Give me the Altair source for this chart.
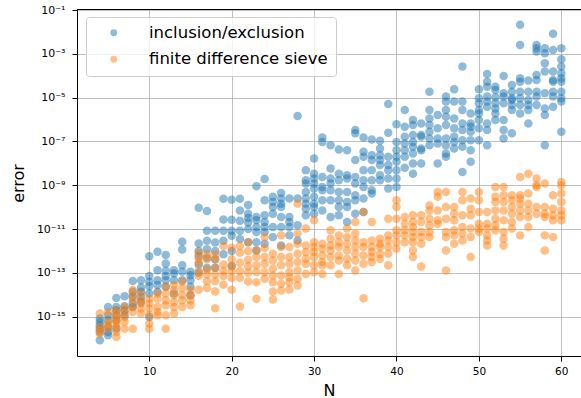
import altair as alt
import pandas as pd

# log10(error) for each N, inclusion/exclusion method
incl_excl_log10 = {
    4: [-15.09, -15.24, -15.40, -15.55, -15.70, -16.08],
    5: [-14.56, -14.94, -15.17, -15.47, -15.70, -15.85],
    6: [-14.15, -14.56, -14.71, -14.94, -15.17, -15.55],
    7: [-14.07, -14.53, -14.71, -14.94],
    8: [-13.37, -13.87, -14.10, -14.40, -14.56],
    9: [-13.34, -13.67, -13.87, -14.10, -14.33],
    10: [-12.24, -13.15, -13.41, -13.61, -13.95, -15.02],
    11: [-12.04, -12.88, -13.34, -13.56, -13.87],
    12: [-12.19, -12.57, -12.91, -13.15, -13.34, -13.64],
    13: [-12.88, -13.03, -13.34, -13.95],
    14: [-11.58, -11.93, -12.65, -12.95, -13.34],
    15: [-12.95, -13.11, -13.34, -13.64, -14.02],
    16: [-10.03, -11.66, -12.00, -12.23, -12.62, -13.00],
    17: [-10.18, -11.08, -11.54, -11.92, -12.31, -12.77],
    18: [-11.08, -11.62, -12.00, -12.38, -12.77],
    19: [-9.62, -10.57, -11.08, -11.54, -12.15],
    20: [-9.66, -10.58, -11.08, -11.31, -12.00, -12.69],
    21: [-9.62, -10.15, -10.62, -11.08, -11.46],
    22: [-9.90, -10.30, -10.50, -10.70, -11.00, -11.60],
    23: [-9.05, -10.45, -10.60, -10.91, -11.14, -11.60, -11.98],
    24: [-8.72, -9.69, -10.37, -10.68, -10.91, -11.14, -11.67],
    25: [-9.53, -9.76, -9.99, -10.30, -10.91, -11.37],
    26: [-9.35, -9.61, -9.84, -9.99, -10.45, -10.91, -11.75],
    27: [-9.61, -10.45, -10.68, -10.91, -11.29],
    28: [-5.84, -9.61, -10.83, -11.52],
    29: [-8.31, -8.77, -8.92, -9.31, -9.61, -9.84, -10.07, -10.37],
    30: [-7.78, -8.47, -8.69, -8.92, -9.15, -9.53, -9.84, -9.99, -10.30],
    31: [-6.82, -7.02, -8.62, -9.08, -9.23, -9.69, -10.15],
    32: [-7.17, -8.24, -8.69, -8.92, -9.23, -9.69, -10.45],
    33: [-7.37, -8.47, -8.77, -9.31, -9.69, -9.99, -10.37],
    34: [-7.40, -8.54, -8.69, -9.31, -9.76, -9.99, -10.68],
    35: [-6.48, -6.63, -7.85, -8.62, -8.92, -9.46, -9.69, -10.30],
    36: [-6.82, -7.47, -7.70, -8.31, -8.77, -9.08, -9.61, -10.22],
    37: [-6.91, -7.63, -7.85, -8.31, -8.77, -9.23, -9.38],
    38: [-6.97, -7.32, -7.63, -7.85, -8.08, -8.54, -8.77],
    39: [-5.29, -6.60, -7.70, -8.08, -8.31, -8.69, -9.15],
    40: [-6.21, -7.02, -7.40, -7.70, -7.93, -8.31, -8.69, -9.08],
    41: [-5.56, -6.33, -6.79, -7.09, -7.40, -7.70, -8.20],
    42: [-6.02, -6.25, -6.71, -7.02, -7.24, -7.55, -8.01, -8.47],
    43: [-6.18, -6.71, -6.79, -7.32, -7.40, -8.01],
    44: [-4.73, -5.56, -5.95, -6.25, -6.56, -6.86, -7.17],
    45: [-5.79, -6.40, -6.86, -7.09, -8.01],
    46: [-4.95, -5.18, -5.56, -5.87, -6.25, -6.86, -7.17, -7.55, -7.70],
    47: [-4.62, -5.18, -5.95, -6.40, -6.79, -7.02, -7.32],
    48: [-3.58, -5.18, -5.56, -6.18, -6.48, -6.94, -7.24, -8.39],
    49: [-5.72, -6.18, -6.33, -6.56, -6.94, -7.40, -7.93],
    50: [-4.62, -5.03, -5.26, -5.56, -5.72, -6.02, -6.40, -6.94],
    51: [-3.92, -4.27, -4.50, -4.95, -5.18, -5.41, -6.18, -6.48, -7.17],
    52: [-4.50, -4.65, -4.98, -5.26, -5.49, -5.72, -6.02],
    53: [-4.01, -4.80, -4.95, -5.26, -6.02, -6.48, -6.86],
    54: [-4.42, -4.73, -5.03, -5.11, -5.34, -5.56, -6.63],
    55: [-1.67, -2.59, -4.11, -4.27, -4.73, -5.03, -5.34, -5.72],
    56: [-4.22, -4.73, -5.11, -5.34, -5.56, -6.18],
    57: [-2.59, -2.74, -2.89, -3.96, -4.19, -4.73, -4.95, -5.34],
    58: [-2.74, -2.97, -3.43, -3.81, -4.80, -5.49, -5.79, -7.17],
    59: [-2.08, -2.82, -3.81, -4.19, -4.27, -4.73, -4.95, -5.41],
    60: [-2.74, -3.24, -3.58, -3.89, -4.11, -4.27, -4.73, -5.03, -5.18, -6.56],
}

# log10(error) for each N, finite difference sieve
fd_sieve_log10 = {
    4: [-14.86, -15.47, -15.63, -15.78],
    5: [-14.79, -15.24, -15.40, -15.55],
    6: [-14.71, -14.86, -15.02, -15.17, -15.32, -15.47, -15.70, -15.93],
    7: [-14.56, -14.79, -15.02, -15.24, -15.55],
    8: [-13.79, -14.02, -14.25, -14.56, -14.79, -15.55],
    9: [-13.95, -14.25, -14.40, -14.63, -14.86],
    10: [-14.18, -14.40, -14.63, -14.94, -15.32, -15.55],
    11: [-13.95, -14.18, -14.56, -14.79, -14.94],
    12: [-13.64, -13.95, -14.25, -14.48, -14.94, -15.55],
    13: [-13.56, -13.79, -14.02, -14.33, -14.56, -14.86],
    14: [-13.41, -13.71, -14.02, -14.25, -14.56],
    15: [-13.79, -14.02, -14.25, -14.48],
    16: [-12.08, -12.34, -12.54, -12.92, -13.15, -13.77],
    17: [-12.15, -12.38, -12.85, -13.08, -13.38, -13.69],
    18: [-12.15, -12.38, -12.77, -13.08, -13.38, -13.85, -14.62],
    19: [-11.77, -12.62, -12.92, -13.15, -13.54],
    20: [-11.85, -12.38, -12.69, -12.92, -13.23, -13.77],
    21: [-11.77, -12.08, -12.54, -12.92, -13.23, -14.54],
    22: [-11.60, -12.00, -12.40, -12.70, -13.00, -13.40],
    23: [-11.98, -12.28, -12.66, -12.97, -13.43, -14.19],
    24: [-11.37, -11.87, -12.28, -12.59, -12.97, -13.27],
    25: [-12.13, -12.44, -12.81, -13.12, -13.43, -13.85, -14.22],
    26: [-11.29, -11.82, -12.28, -12.66, -13.12, -13.50, -13.81],
    27: [-11.82, -12.28, -12.59, -12.97, -13.20, -13.43, -13.76],
    28: [-9.84, -11.21, -11.67, -12.13, -12.51, -12.89, -13.27, -13.58],
    29: [-10.98, -11.75, -12.05, -12.36, -12.59, -13.05],
    30: [-10.60, -11.60, -11.82, -12.05, -12.28, -12.66, -12.97],
    31: [-11.67, -11.90, -12.21, -12.51, -12.66, -13.05],
    32: [-11.06, -11.44, -11.75, -11.98, -12.28, -12.66],
    33: [-11.29, -11.60, -11.82, -12.21, -12.44, -13.05],
    34: [-10.98, -11.37, -11.67, -11.98, -12.36, -12.66],
    35: [-10.68, -11.21, -11.52, -11.82, -12.13, -12.44, -12.89],
    36: [-10.22, -11.60, -11.82, -12.21, -12.59, -14.16],
    37: [-10.68, -11.52, -11.82, -12.05, -12.28, -12.51],
    38: [-11.44, -11.67, -11.82, -12.13, -12.36],
    39: [-10.53, -11.29, -11.52, -11.82, -12.13, -12.66],
    40: [-9.69, -9.99, -10.53, -11.06, -11.29, -11.60, -11.90],
    41: [-10.45, -10.76, -11.06, -11.29, -11.60],
    42: [-10.37, -10.68, -10.91, -11.14, -11.37, -11.60, -11.98, -12.28],
    43: [-10.37, -10.68, -11.14, -11.37, -11.67, -12.71],
    44: [-9.92, -10.15, -10.53, -10.83, -11.14, -11.37],
    45: [-9.31, -9.53, -10.15, -10.60, -10.76],
    46: [-9.31, -9.99, -10.53, -11.14, -11.37, -11.98, -12.89],
    47: [-9.99, -10.30, -10.60, -11.06, -11.29, -11.67],
    48: [-9.31, -9.69, -10.37, -10.91, -11.21, -11.52],
    49: [-9.61, -10.07, -10.37, -10.98, -11.37, -12.28],
    50: [-9.31, -9.69, -10.22, -10.76, -10.98, -11.14],
    51: [-10.22, -10.76, -10.98, -11.29, -11.52, -11.75],
    52: [-9.08, -9.53, -9.76, -10.15, -10.53, -10.83, -11.06],
    53: [-9.08, -9.46, -9.76, -10.15, -10.60, -11.14, -11.44, -11.75],
    54: [-9.46, -9.69, -9.99, -10.30, -10.68, -10.98],
    55: [-8.62, -9.46, -9.61, -9.84, -10.15, -10.45, -11.29],
    56: [-8.47, -9.38, -9.84, -10.15, -10.45, -10.91],
    57: [-8.69, -9.00, -9.08, -9.99, -10.30],
    58: [-8.92, -9.99, -10.30, -10.45, -11.29, -11.98],
    59: [-9.46, -10.07, -10.37, -10.60, -11.37],
    60: [-8.85, -9.00, -9.38, -9.76, -10.15, -10.37, -10.60],
}

series_names = ["inclusion/exclusion", "finite difference sieve"]
series_colors = ["#1f77b4", "#ff7f0e"]
y_tick_exponents = [-1, -3, -5, -7, -9, -11, -13, -15]

rows = []
for name, table in zip(series_names, [incl_excl_log10, fd_sieve_log10]):
    for n, exps in table.items():
        for e in exps:
            rows.append({"N": n, "error": 10.0 ** e, "method": name})
df = pd.DataFrame(rows)
df["draw_order"] = df["method"].map({series_names[0]: 0, series_names[1]: 1})

# superscript labels 10⁻ⁿ for the decade ticks
SUP = str.maketrans("-0123456789", "⁻⁰¹²³⁴⁵⁶⁷⁸⁹")
label_expr = "''"
for e in y_tick_exponents:
    lab = "10" + str(e).translate(SUP)
    label_expr = f"round(log(datum.value)/LN10) == {e} ? '{lab}' : ({label_expr})"

W, H = 504, 347
FONT = "DejaVu Sans"

points = alt.Chart(df).mark_circle(size=72, opacity=0.5, strokeWidth=0).encode(
    x=alt.X(
        "N:Q",
        scale=alt.Scale(domain=[1.23, 62.39], nice=False, zero=False),
        axis=alt.Axis(
            values=[10, 20, 30, 40, 50, 60],
            title="N",
            titleFontSize=16,
            titleFontWeight="normal",
            titleBaseline="alphabetic",
            titleY=39,
            labelPadding=5,
        ),
    ),
    y=alt.Y(
        "error:Q",
        scale=alt.Scale(type="log", domain=[10 ** -16.8, 10 ** -0.95], nice=False),
        axis=alt.Axis(
            values=[10.0 ** e for e in y_tick_exponents],
            labelExpr=label_expr,
            labelFontSize=11,
            title="error",
            titleFontSize=16,
            titleFontWeight="normal",
            titleX=-59,
            titleY=174,
            titleAngle=-90,
            titleBaseline="middle",
            titleAlign="center",
            labelPadding=7,
        ),
    ),
    color=alt.Color(
        "method:N",
        scale=alt.Scale(domain=series_names, range=series_colors),
        legend=alt.Legend(
            title=None,
            orient="none",
            legendX=9,
            legendY=8,
            padding=7.5,
            rowPadding=9.5,
            symbolOffset=12,
            labelOffset=27,
            labelLimit=400,
            symbolSize=46,
            symbolOpacity=0.5,
            symbolStrokeWidth=0,
            symbolType="circle",
            labelFontSize=16.5,
            labelFont=FONT,
            labelColor="#000000",
            fillColor="rgba(255,255,255,0.8)",
            strokeColor="#cccccc",
            cornerRadius=3,
        ),
    ),
    order=alt.Order("draw_order:Q"),
)

top_spine = alt.Chart(df).mark_rule(color="black", strokeWidth=1).encode(
    x=alt.value(0), x2=alt.value(W), y=alt.value(0.5)
)

chart = (
    alt.layer(points, top_spine)
    .properties(
        width=W,
        height=H,
        autosize=alt.AutoSizeParams(type="none"),
        padding={"left": 77, "top": 9, "right": 0, "bottom": 42},
    )
    .configure(font=FONT)
    .configure_view(stroke=None)
    .configure_axis(
        labelFont=FONT,
        titleFont=FONT,
        labelFontSize=10.5,
        labelColor="#000000",
        titleColor="#000000",
        domainColor="#000000",
        domainWidth=1,
        tickColor="#000000",
        tickSize=5,
        tickWidth=1,
        grid=True,
        gridColor="#b0b0b0",
        gridWidth=0.8,
    )
)

chart.save("out.html", embed_options={"renderer": "svg", "actions": False})
